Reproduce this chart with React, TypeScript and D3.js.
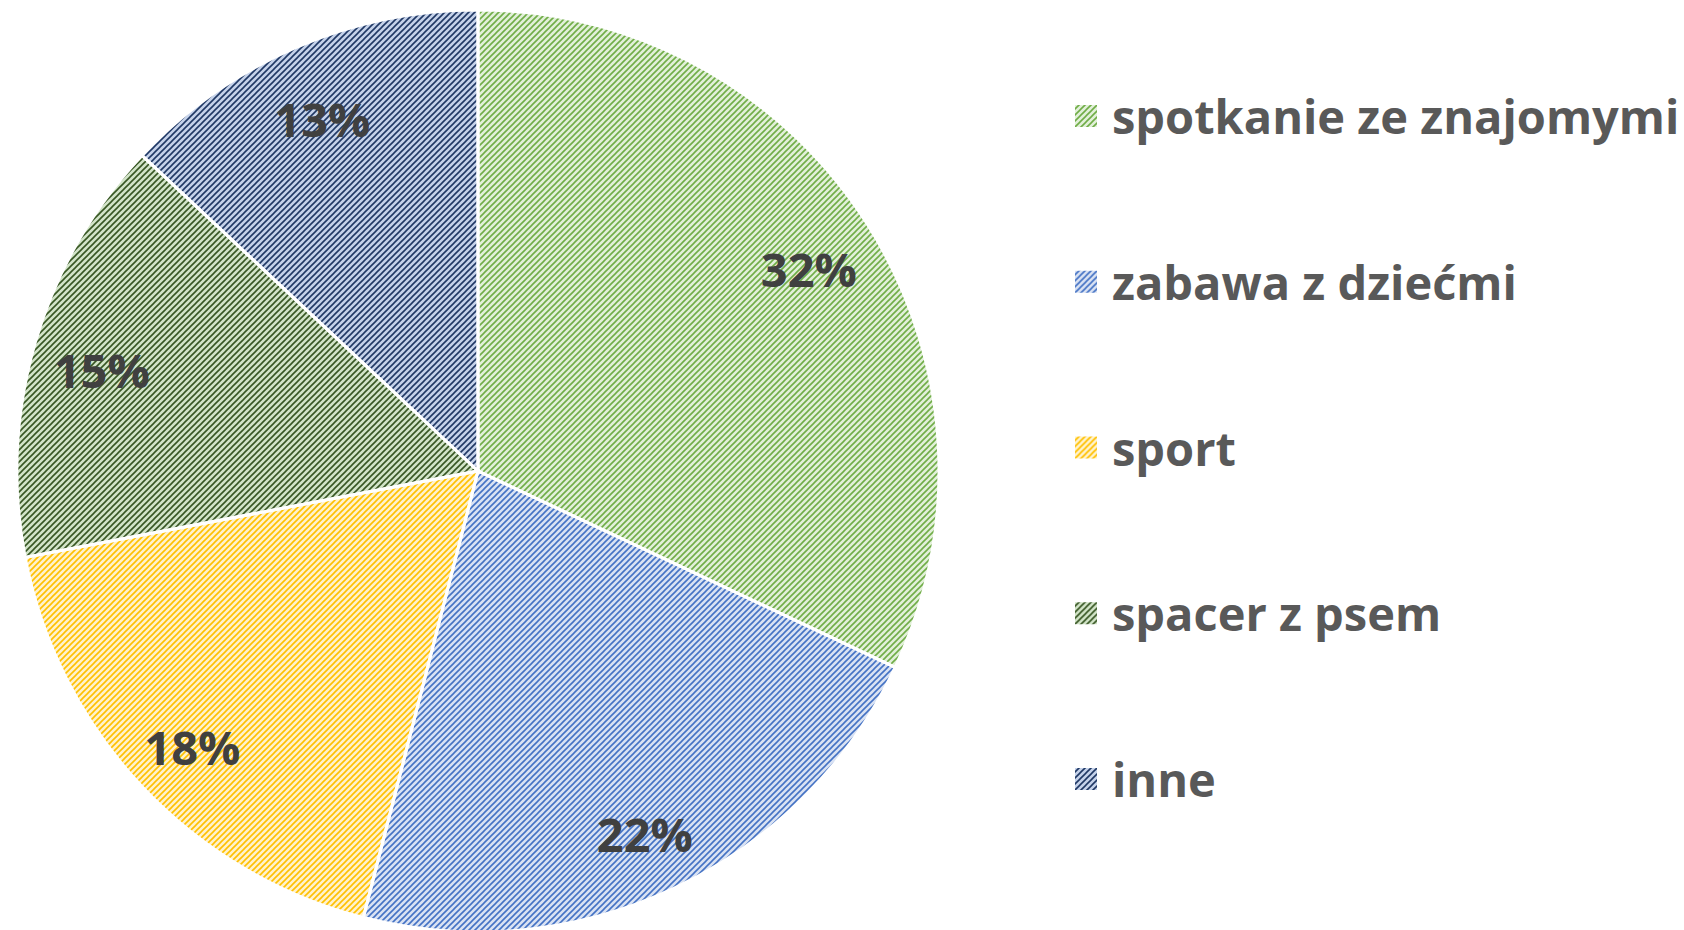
import React from "react";
import * as d3 from "d3";

const categories = ["spotkanie ze znajomymi", "zabawa z dziećmi", "sport", "spacer z psem", "inne"];
const values = [32, 22, 18, 15, 13];
const fgColors = ["#70AD47", "#4472C4", "#FFC000", "#375623", "#203864"];
const bgColors = ["#E2F0D9", "#D9E2F3", "#FFF2CC", "#D2E4C8", "#C5D2EA"];

const W = 1684;
const H = 930;
const cx = 478;
const cy = 471;
const R = 461;

export default function App() {
  const pie = d3.pie<number>().sort(null).value((d) => d)(values);
  const arc = d3.arc<d3.PieArcDatum<number>>().innerRadius(0).outerRadius(R);
  const labelArc = d3.arc<d3.PieArcDatum<number>>().innerRadius(R * 0.85).outerRadius(R * 0.85);
  const total = d3.sum(values);
  const legendY = d3.scalePoint<string>().domain(categories).range([116, 779]);
  const font = "'Open Sans', 'DejaVu Sans', sans-serif";
  return (
    <svg width={W} height={H} style={{ position: "absolute", left: 0, top: 0 }}>
      <defs>
        {fgColors.map((c, i) => (
          <pattern key={i} id={`p${i}`} patternUnits="userSpaceOnUse" width={6} height={6}>
            <rect width={6} height={6} fill={bgColors[i]} />
            <path d="M0,6 L6,0 M-1,1 L1,-1 M5,7 L7,5" stroke={c} strokeWidth={1.6} />
          </pattern>
        ))}
      </defs>
      <rect width={W} height={H} fill="#fff" />
      <g transform={`translate(${cx},${cy})`}>
        {pie.map((p, i) => (
          <path key={i} d={arc(p) || ""} fill={`url(#p${i})`} />
        ))}
        {pie.map((p, i) => (
          <path key={"s" + i} d={arc(p) || ""} fill="none" stroke="#fff" strokeWidth={3} />
        ))}
        {pie.map((p, i) => {
          const [x, y] = labelArc.centroid(p);
          return (
            <text
              key={"l" + i}
              x={x}
              y={y + 8}
              textAnchor="middle"
              dominantBaseline="central"
              fontFamily={font}
              fontWeight={700}
              fontSize={47}
              fill="#404040"
            >
              {Math.round((p.value / total) * 100)}%
            </text>
          );
        })}
      </g>
      <g>
        {categories.map((c, i) => (
          <g key={c} transform={`translate(0,${legendY(c)})`}>
            <rect x={1075} y={-11} width={22} height={22} fill={`url(#p${i})`} />
            <text
              x={1112}
              y={0}
              dominantBaseline="central"
              fontFamily={font}
              fontWeight={700}
              fontSize={47}
              fill="#595959"
            >
              {c}
            </text>
          </g>
        ))}
      </g>
    </svg>
  );
}
